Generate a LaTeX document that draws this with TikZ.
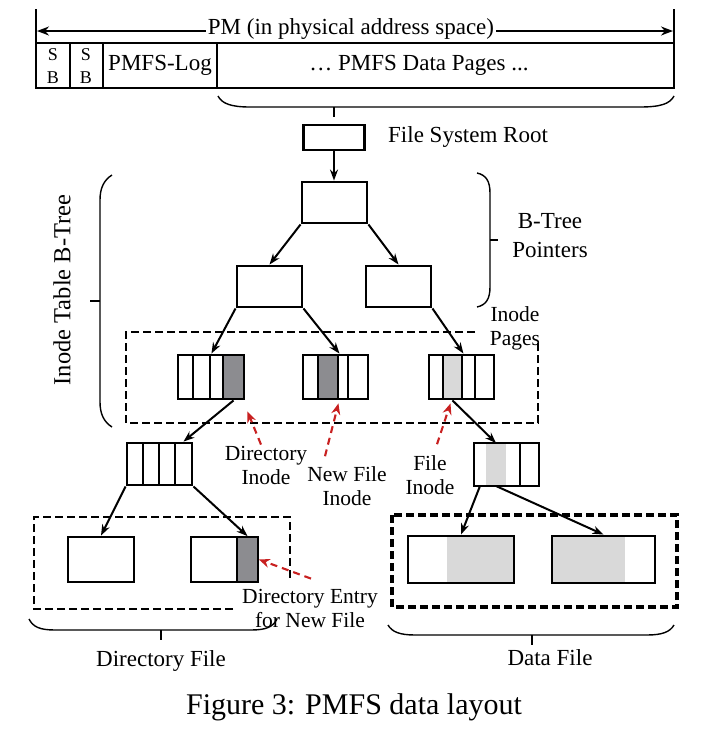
\documentclass[tikz,border=0pt]{standalone}
\usepackage{fontspec}
\setmainfont{Liberation Serif}
\usetikzlibrary{arrows.meta,calc}

\definecolor{darkcell}{RGB}{140,140,144}
\definecolor{lightcell}{RGB}{217,217,217}
\definecolor{hintred}{RGB}{200,32,32}

\begin{document}
\begin{tikzpicture}[x=1pt,y=-1pt,
    box/.style={draw, line width=2.9pt, inner sep=0pt},
    cell/.style={draw, line width=2.9pt, inner sep=0pt, minimum height=44pt},
    cellarea/.style={inner sep=0pt, outer sep=0pt, minimum height=43pt},
    ptr/.style={-{Stealth[length=11pt,width=8pt]}, line width=2pt},
    hint/.style={hintred, line width=2.1pt, dash pattern=on 7pt off 5pt,
                 -{Stealth[length=11pt,width=9pt]}},
    group/.style={line width=2.4pt, dash pattern=on 8pt off 4pt},
    brace/.style={line width=1.4pt},
    lbl/.style={font=\fontsize{23}{27}\selectfont, align=center, inner sep=0pt},
    small/.style={font=\fontsize{21.5}{24}\selectfont, align=center, inner sep=0pt}
]
\useasboundingbox (0,0) rectangle (704,734);

% PM in physical address space
\draw[line width=1.7pt] (36,9) -- (36,43);
\draw[line width=1.7pt] (674,9) -- (674,43);
\draw[line width=1.8pt, {Stealth[length=12pt,width=9pt]}-{Stealth[length=12pt,width=9pt]}] (37,31) -- (673,31);
\node[lbl, fill=white, inner sep=2pt] (pmlbl) at (351,29) {PM (in physical address space)};

\draw[line width=1.8pt] (36,43) rectangle (674,88);
\foreach \x in {70,103,217}
    \draw[line width=1.8pt] (\x,43) -- (\x,88);
\node[lbl, font=\fontsize{18}{23}\selectfont] (sba) at (53,66) {S\\B};
\node[lbl, font=\fontsize{18}{23}\selectfont] (sbb) at (86,66) {S\\B};
\node[lbl] (pmlog) at (160,65) {PMFS-Log};
\node[lbl] (pmdata) at (419,65) {\dots\ PMFS Data Pages ...};

% brace under the data pages
\draw[brace] (218,96) .. controls (222,104) and (232,107) .. (250,107) -- (640,107)
    .. controls (660,107) and (670,104) .. (674,96);
\draw[brace] (334,107) -- (334,117);

% file system root and B-tree pointers
\node[box, minimum width=61pt, minimum height=25pt] (root) at (334,137.5) {};
\node[lbl, anchor=west] (rootlbl) at (388,137) {File System Root};

\node[box, minimum width=65pt, minimum height=41pt] (btop) at (334.5,202.5) {};
\node[box, minimum width=65pt, minimum height=41pt] (bleft) at (269.5,286.5) {};
\node[box, minimum width=65pt, minimum height=41pt] (bright) at (398.5,286.5) {};

\draw[ptr] (root.south) -- (root.south |- btop.north);
\draw[ptr] (btop.south west) -- (bleft.north);
\draw[ptr] (btop.south east) -- (bright.north);

% inode pages
\foreach \a/\b/\f [count=\i] in {178/193/white,193/210/white,210/223/white,223/244/darkcell}
    \node[cell, fill=\f, minimum width={(\b-\a)*1pt}] (ia\i) at ({(\a+\b)/2},377) {};
\foreach \a/\b/\f [count=\i] in {303/318/white,318/338/darkcell,338/348/white,348/368/white}
    \node[cell, fill=\f, minimum width={(\b-\a)*1pt}] (ib\i) at ({(\a+\b)/2},377) {};
\foreach \a/\b/\f [count=\i] in {429/443/white,443/462/lightcell,462/475/white,475/494/white}
    \node[cell, fill=\f, minimum width={(\b-\a)*1pt}] (ic\i) at ({(\a+\b)/2},377) {};

\draw[ptr] (bleft.south west) -- (ia2.north east);
\draw[ptr] (bleft.south east) -- (ib2.north east);
\draw[ptr] (bright.south east) -- (ic2.north east);

\draw[group] (475,332) -- (126,332) -- (126,423) -- (538,423) -- (538,343);
\node[small] (pageslbl) at (515,328.5) {Inode\\Pages};

% braces of the B-tree
\draw[brace] (477,173) .. controls (486,175) and (490,181) .. (490,193) -- (490,287)
    .. controls (490,299) and (486,305) .. (477,307);
\draw[brace] (490,240) -- (498,240);
\node[lbl] (ptrlbl) at (550,236) {B-Tree\\[2pt]Pointers};

\draw[brace] (112,175) .. controls (104,180) and (100,188) .. (100,200) -- (100,402)
    .. controls (100,414) and (104,422) .. (112,427);
\draw[brace] (100,301) -- (90,301);
\node[lbl, rotate=90, font=\fontsize{24.5}{28}\selectfont] (treelbl) at (62,290) {Inode Table B-Tree};

% directory inode and file inode
\foreach \a/\b [count=\i] in {127/143,143/159,159/175,175/192}
    \node[cell, minimum height=42pt, minimum width={(\b-\a)*1pt}] (da\i) at ({(\a+\b)/2},464) {};

\foreach \a/\b/\f [count=\i] in {474/486/white,486/506/lightcell,506/520/white,520/539/white}
    \node[cellarea, fill=\f, minimum width={(\b-\a)*1pt}] (fi\i) at ({(\a+\b)/2},464.5) {};
\draw[line width=2.9pt] (fi1.north west) rectangle (fi4.south east);
\draw[line width=2.9pt] (fi4.north west) -- (fi4.south west);

\draw[ptr] (ia4.south) -- (da4.north);
\draw[ptr] (ic2.south) -- (fi2.north);

% labels of the red hints
\node[small] (dirlbl) at (266,465) {Directory\\Inode};
\node[small] (newlbl) at (347,486) {New File\\Inode};
\node[small] (filelbl) at (430,475) {File\\Inode};
\node[small] (entrylbl) at (310,608) {Directory Entry\\for New File};

\draw[hint] ($(dirlbl.north)+(-5,-1)$) -- ($(ia4.south east)+(2,11)$);
\draw[hint] ($(newlbl.north)+(-22,-10)$) -- ($(ib2.south east)+(-1,3)$);
\draw[hint] ($(filelbl.north)+(7,-11)$) -- ($(ic2.south)+(-2,3)$);

% directory file
\draw[group] (233,609) -- (34,609) -- (34,517) -- (290,517) -- (290,580);
\node[box, minimum width=66pt, minimum height=45pt] (dpage1) at (101,559.5) {};
\node[draw, line width=1.8pt, fill=darkcell, inner sep=0pt, minimum width=21pt,
      minimum height=45pt] (dentry) at (247.5,559.5) {};
\node[box, minimum width=67pt, minimum height=45pt] (dpage2) at (224.5,559.5) {};

\draw[ptr] (da1.south west) -- (dpage1.north);
\draw[ptr] (da4.south east) -- (dentry.north);
\draw[hint] ($(entrylbl.north)+(1,-10)$) -- (dentry.east);

% data file
\draw[group, line width=3.2pt] (392,515) rectangle (677,607);
\node[fill=lightcell, inner sep=0pt, minimum width=67pt, minimum height=47pt] (dfill1) at (480.5,559.5) {};
\node[fill=lightcell, inner sep=0pt, minimum width=73pt, minimum height=47pt] (dfill2) at (588.5,559.5) {};
\node[box, minimum width=106pt, minimum height=47pt] (dblock1) at (461,559.5) {};
\node[box, minimum width=103pt, minimum height=47pt] (dblock2) at (603.5,559.5) {};

\draw[ptr] (fi1.south) -- (dblock1.north);
\draw[ptr] (fi2.south) -- (dblock2.north);

% braces at the bottom
\draw[brace] (29,619) .. controls (33,627) and (40,630) .. (55,630) -- (251,630)
    .. controls (266,630) and (273,627) .. (277,619);
\draw[brace] (161,630) -- (161,640);
\node[lbl] (dirfilelbl) at (161,661) {Directory File};

\draw[brace] (388,625) .. controls (392,632) and (400,635) .. (415,635) -- (647,635)
    .. controls (662,635) and (670,632) .. (674,625);
\draw[brace] (532,635) -- (532,645);
\node[lbl] (datafilelbl) at (550,658) {Data File};

\node[lbl, font=\fontsize{30}{34}\selectfont] (caption) at (354,707) {Figure 3: PMFS data layout};
\end{tikzpicture}
\end{document}
